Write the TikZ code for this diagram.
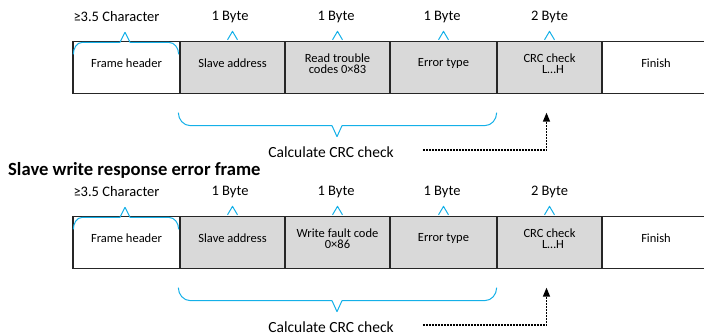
\documentclass[tikz,border=0pt]{standalone}
\usepackage{fontspec}
\setmainfont{Carlito}
\usetikzlibrary{arrows.meta,calc}
\definecolor{cellgray}{RGB}{217,217,217}
\definecolor{braceblue}{RGB}{20,176,232}
\tikzset{
  cell/.style={draw=black!85, line width=1.3pt, fill=cellgray, minimum height=52pt,
    inner sep=0pt},
  celltext/.style={inner sep=0pt, align=center, font=\fontsize{12.5}{11}\selectfont, yshift=4pt},
  toplabel/.style={font=\fontsize{14.5}{17}\selectfont, inner sep=0pt},
  calclabel/.style={font=\fontsize{15.5}{18}\selectfont, inner sep=0pt},
  bracepath/.style={draw=braceblue, line width=1pt, line join=round},
  dasharrow/.style={draw=black, line width=1.4pt, dash pattern=on 2pt off 1pt,
    -{Triangle[length=9pt,width=7pt]}},
}
\newcommand\crcframe[3]{%
  % cells
  \node[cell, fill=white, minimum width=107pt, label={[celltext]center:Frame header}] (#1fh) at (126.5,#2+26) {};
  \node[cell, minimum width=105pt, label={[celltext]center:Slave address}] (#1sa) at (232.5,#2+26) {};
  \node[cell, minimum width=105pt, label={[celltext]center:#3}] (#1rt) at (337.5,#2+26) {};
  \node[cell, minimum width=107pt, label={[celltext]center:Error type}] (#1et) at (443.5,#2+26) {};
  \node[cell, minimum width=105pt, label={[celltext]center:CRC check\\\hspace*{7pt}L…H}] (#1crc) at (549.5,#2+26) {};
  \node[cell, fill=white, minimum width=108pt, label={[celltext]center:Finish}] (#1fin) at (656,#2+26) {};
  % labels above
  \node[toplabel] (#1l1) at (116.5,#2-24.5) {≥3.5 Character};
  \node[toplabel] (#1l2) at (230,#2-24.5) {1 Byte};
  \node[toplabel] (#1l3) at (336,#2-24.5) {1 Byte};
  \node[toplabel] (#1l4) at (442,#2-24.5) {1 Byte};
  \node[toplabel] (#1l5) at (549.5,#2-24.5) {2 Byte};
  % braces above
  \path[bracepath] ($(#1fh.north west)+(1,13.5)$) to[out=90,in=180] ($(#1fh.north west)+(10,1.5)$)
    -- ($(#1fh.north)+(-6.5,1.5)$) -- ($(#1fh.north)+(-1.5,-8.5)$) -- ($(#1fh.north)+(3.5,1.5)$)
    -- ($(#1fh.north east)+(-12,1.5)$) to[out=0,in=90] ($(#1fh.north east)+(-2,13.5)$);
  \foreach \c in {sa,rt,et,crc}{
    \path[bracepath] ($(#1\c.north)+(-5,-1)$) -- ($(#1\c.north)+(0,-9.5)$) -- ($(#1\c.north)+(5,-1)$);
  }
  % brace below
  \path[bracepath] ($(#1sa.south west)+(-1,18.5)$) to[out=-90,in=180] ($(#1sa.south west)+(11,31.5)$)
    -- ($(#1rt.south)+(-5.5,31.5)$) -- ($(#1rt.south)+(-0.5,42.5)$) -- ($(#1rt.south)+(4.5,31.5)$)
    -- ($(#1et.south east)+(-13,31.5)$) to[out=0,in=-90] ($(#1et.south east)+(-1,18.5)$);
  % calculate label and arrow
  \node[calclabel] (#1calc) at (331,#2+110.5) {Calculate CRC check};
  \coordinate (#1as) at ($(#1calc.east)+(29,-2)$);
  \coordinate (#1ae) at ($(#1crc.south)+(-3,18.5)$);
  \draw[dasharrow] (#1as) -| (#1ae);
}
\begin{document}
\begin{tikzpicture}[x=1pt,y=-1pt]
\useasboundingbox (0,0) rectangle (704,332);
\crcframe{a}{41.5}{Read trouble\\codes 0×83}
\node[anchor=west, font=\bfseries\fontsize{18.6}{21}\selectfont, inner sep=0pt] (title) at (8,170) {Slave write response error frame};
\crcframe{b}{216.5}{Write fault code\\0×86}
\end{tikzpicture}
\end{document}
